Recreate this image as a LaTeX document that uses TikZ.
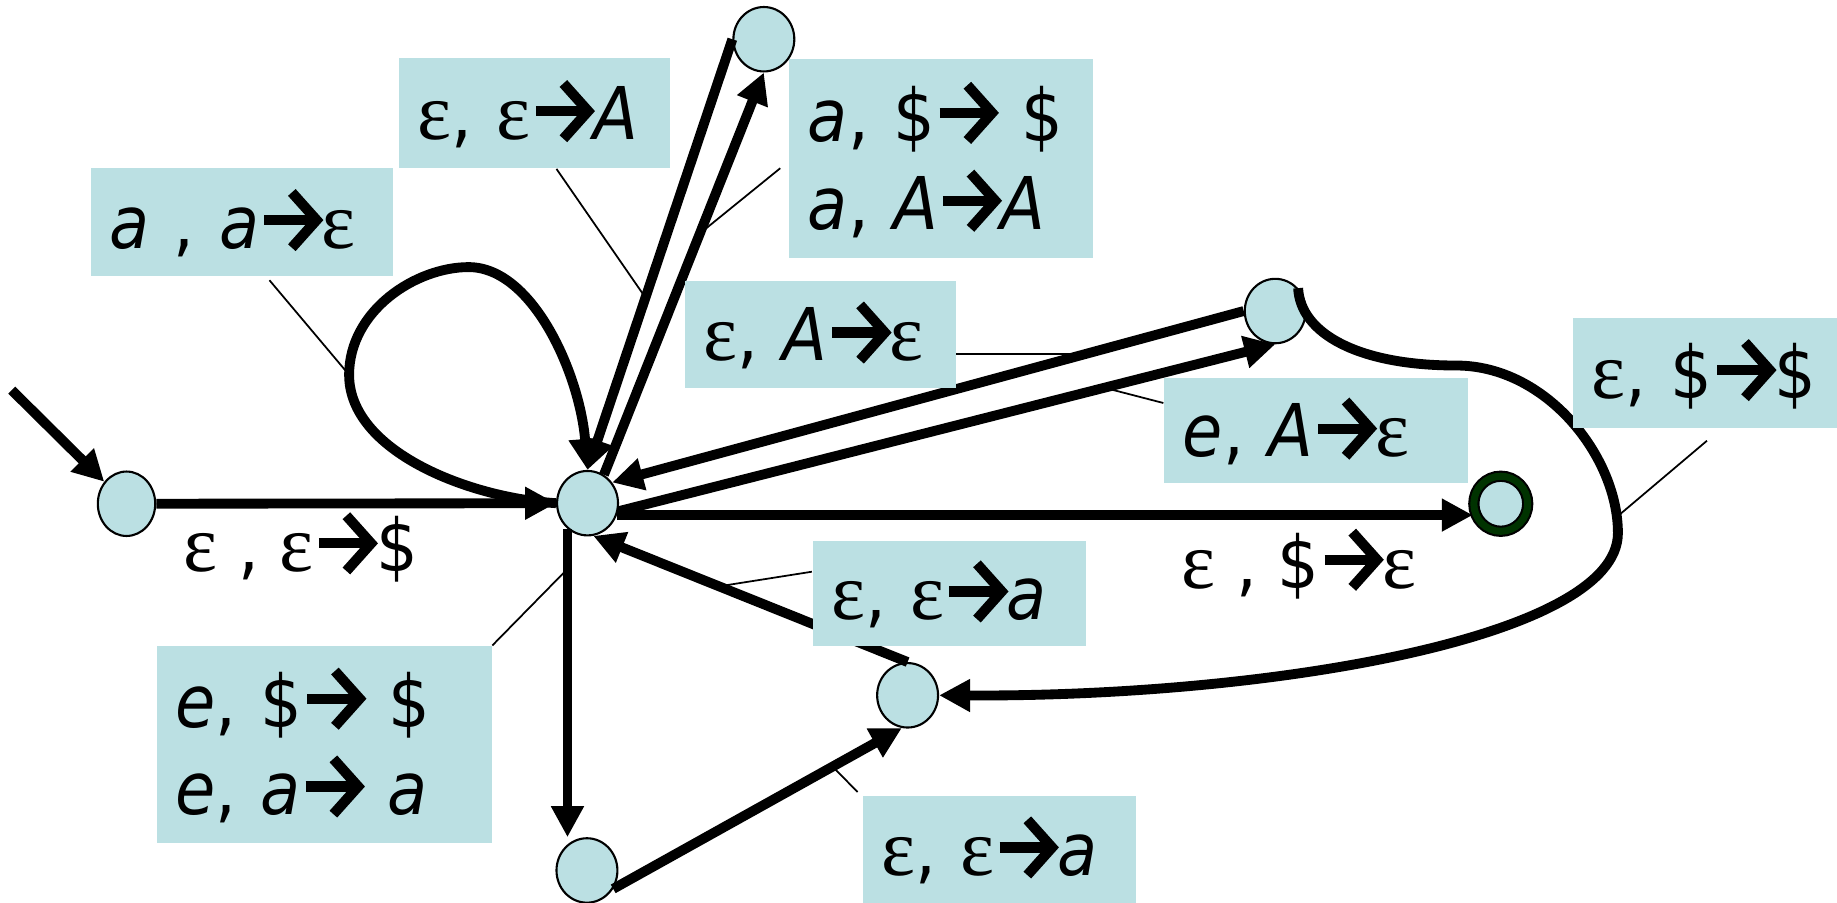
\documentclass[tikz,border=0pt]{standalone}
\usepackage{fontspec}
\setmainfont{DejaVu Sans Condensed}
\newfontfamily\epsfont{Liberation Serif}
\usetikzlibrary{arrows.meta,shapes.geometric,calc}
\definecolor{toestand}{HTML}{BBE0E3}
\definecolor{eindgroen}{HTML}{003300}
\newlength{\px}\setlength{\px}{0.011716cm}
\newlength{\lw}
\newcommand{\eps}{{\epsfont\fontsize{23}{25}\selectfont ε}}
\newcommand{\pijl}{\tikz[baseline=0pt, x=1em, y=1em, line width=0.14em]{
    \draw (0.04,0.39) -- (0.68,0.39);
    \draw[line join=miter] (0.42,0.77) -- (0.76,0.39) -- (0.42,0.01);}}
\NewDocumentCommand{\labelvak}{m m m m m m}{ % naam, x, y, breedte, hoogte, tekst
    \setlength{\lw}{\dimexpr#4\px-32\px\relax}
    \node[vak, text width=\lw, minimum height=#5\px] (#1) at (#2,#3) {#6};
}

\begin{document}
\begin{tikzpicture}[x=\px, y=-\px,
    toest/.style={ellipse, draw, line width=0.6pt, fill=toestand, minimum width=52\px, minimum height=55\px, inner sep=0pt},
    eind/.style={toest, double=eindgroen, double distance=2pt, minimum width=46\px, minimum height=47\px},
    pad/.style={line width=2.8pt, -{Triangle[length=0.31cm,width=0.31cm]}},
    hulp/.style={line width=0.5pt},
    vak/.style={fill=toestand, anchor=north west, align=left, inner xsep=16\px, inner ysep=0pt, font=\fontsize{20.7}{25}\selectfont},
    tekst/.style={anchor=base west, font=\fontsize{20.7}{25}\selectfont}]
    \useasboundingbox (0,0) rectangle (1568,770);
    % toestanden
    \node[toest, minimum width=49\px] (q0) at (108,430) {};
    \node[toest] (q1) at (501.5,429.5) {};
    \node[toest] (q2) at (652,33.5) {};
    \node[toest] (q3) at (1088.5,265.5) {};
    \node[eind] (q4) at (1281,430) {};
    \node[toest] (q5) at (774.7,593.5) {};
    \node[toest] (q6) at (501,743) {};
    % overgangen
    \coordinate (begin) at (10,333);
    \draw[pad] (begin) -- (q0);
    \draw[pad] (q0) -- (q1);
    \draw[pad] (q1.west) .. controls (400,425) and (298,385) .. (298,320) coordinate (lus)
        .. controls (298,265) and (355,228) .. (400,228)
        .. controls (455,228) and (495,320) .. (q1.north);
    \draw[pad] (q2.west) -- coordinate[pos=0.6] (tEA) (q1.north);
    \draw[pad] (q1.60) -- coordinate[pos=0.6] (tAS) (q2.south);
    \draw[pad] (q3.west) -- coordinate[pos=0.25] (tAe) (q1.40);
    \draw[pad] (q1.-15) -- coordinate[pos=0.74] (tEe) (q3.south);
    \draw[pad] (q1.-22) -- (q1.-22 -| q4.west);
    \draw[pad] (q1.-128) -- coordinate[pos=0.13] (tEd) (q1.-128 |- q6.north);
    \draw[pad] (q6.-35) -- coordinate[pos=0.76] (tEa2) (q5.-100);
    \draw[pad] (q5.north) -- coordinate[pos=0.6] (tEa1) (q1.-80);
    \draw[pad] (q3.45) .. controls (1110,285) and (1160,312) .. (1243,312)
        .. controls (1320,312) and (1381,390) .. coordinate[pos=0.93] (tSS) (1381,455)
        .. controls (1381,545) and (1080,595) .. (q5.east);
    % labels
    \labelvak{lbEA}{340}{49}{231}{94}{\eps,~\eps\pijl\textit{A}}
    \labelvak{lbaa}{77}{143}{258}{92}{\textit{a}~,~\textit{a}\pijl\eps}
    \labelvak{lbaS}{673}{50}{259}{170}{\textit{a},~\$\pijl~\$\\\textit{a},~\textit{A}\pijl\textit{A}}
    \labelvak{lbAe}{584}{239}{231}{92}{\eps,~\textit{A}\pijl\eps}
    \labelvak{lbeA}{993}{322}{259}{90}{\textit{e},~\textit{A}\pijl\eps}
    \labelvak{lbSS}{1342}{271}{226}{94}{\eps,~\$\pijl\$}
    \labelvak{lbea1}{693}{461}{233}{90}{\eps,~\eps\pijl\textit{a}}
    \labelvak{lbeS}{133}{551}{286}{168}{\textit{e},~\$\pijl~\$\\\textit{e},~\textit{a}\pijl~\textit{a}}
    \labelvak{lbea2}{736}{679}{233}{91}{\eps,~\eps\pijl\textit{a}}
    \node[tekst] (lEeS) at (146,488) {\eps{} , \eps\pijl\$};
    \node[tekst] (lESe) at (998,502) {\eps{} , \$\pijl\eps};
    % hulplijnen
    \draw[hulp] (lbaa.south west) ++(153,3) -- (lus);
    \draw[hulp] (lbEA.south west) ++(135,0) -- (tEA);
    \draw[hulp] (lbaS.west) ++(-7,8) -- (tAS);
    \draw[hulp] (tAe -| lbAe.east) -- (tAe);
    \draw[hulp] (lbeA.north west) ++(0,22) -- (tEe);
    \draw[hulp] (lbSS.south west) ++(115,10) -- (tSS);
    \draw[hulp] (lbea1.north west) ++(0,27) -- (tEa1);
    \draw[hulp] (lbeS.north east) -- (tEd);
    \draw[hulp] (lbea2.north west) ++(-4,-3) -- (tEa2);
\end{tikzpicture}
\end{document}
